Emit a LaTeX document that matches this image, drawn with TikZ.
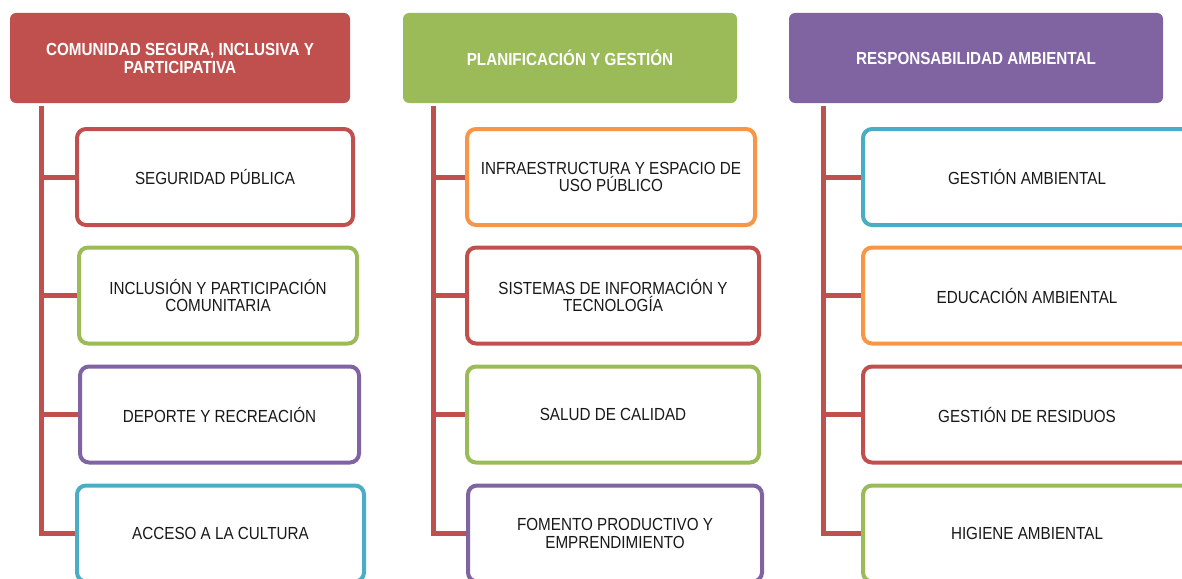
\documentclass[tikz,border=0pt]{standalone}
\usepackage{fontspec}
\setmainfont{Liberation Sans}[FakeStretch=0.87]
\usepackage{xcolor}
\definecolor{ored}{HTML}{C0504D}
\definecolor{ogreen}{HTML}{9BBB59}
\definecolor{opurple}{HTML}{8064A2}
\definecolor{oaqua}{HTML}{4BACC6}
\definecolor{oorange}{HTML}{F79646}
\pgfdeclarelayer{bg}
\pgfsetlayers{bg,main}
\tikzset{
  head/.style={fill=#1, draw=none, rounded corners=6pt, minimum height=90pt,
    inner sep=0pt, align=center, text=white,
    font=\fontsize{17.5}{18}\selectfont\bfseries},
  item/.style={draw=#1, line width=4pt, fill=white, rounded corners=9pt,
    minimum height=96pt, inner sep=0pt, align=center, text=black!90,
    font=\fontsize{17.5}{17.5}\selectfont},
  trunk/.style={draw=ored, line width=5pt},
}

\begin{document}
\begin{tikzpicture}[x=1pt, y=-1pt]
    \useasboundingbox (0,0) rectangle (1182,578);

    % Headers
    \node[head=ored, minimum width=340pt] (h1) at (180,58) {COMUNIDAD SEGURA, INCLUSIVA Y\\PARTICIPATIVA};
    \node[head=ogreen, minimum width=334pt] (h2) at (570,58) {PLANIFICACIÓN Y GESTIÓN};
    \node[head=opurple, minimum width=374pt] (h3) at (976,58) {RESPONSABILIDAD AMBIENTAL};

    % Column 1
    \node[item=ored, minimum width=276pt] (c11) at (215,177) {SEGURIDAD PÚBLICA};
    \node[item=ogreen, minimum width=278pt] (c12) at (218,295.5) {INCLUSIÓN Y PARTICIPACIÓN\\COMUNITARIA};
    \node[item=opurple, minimum width=279pt] (c13) at (219.5,414.5) {DEPORTE Y RECREACIÓN};
    \node[item=oaqua, minimum width=287pt] (c14) at (220.5,533.5) {ACCESO A LA CULTURA};

    % Column 2
    \node[item=oorange, minimum width=288pt] (c21) at (611,177) {INFRAESTRUCTURA Y ESPACIO DE\\USO PÚBLICO};
    \node[item=ored, minimum width=292pt] (c22) at (613,295.5) {SISTEMAS DE INFORMACIÓN Y\\TECNOLOGÍA};
    \node[item=ogreen, minimum width=292pt] (c23) at (613,414.5) {SALUD DE CALIDAD};
    \node[item=opurple, minimum width=294pt] (c24) at (615,533.5) {FOMENTO PRODUCTIVO Y\\EMPRENDIMIENTO};

    % Column 3 (cut at the right edge)
    \node[item=oaqua, minimum width=328pt] (c31) at (1027,177) {GESTIÓN AMBIENTAL};
    \node[item=oorange, minimum width=328pt] (c32) at (1027,295.5) {EDUCACIÓN AMBIENTAL};
    \node[item=ored, minimum width=328pt] (c33) at (1027,414.5) {GESTIÓN DE RESIDUOS};
    \node[item=ogreen, minimum width=328pt] (c34) at (1027,533.5) {HIGIENE AMBIENTAL};

    % Trunks and branches
    \coordinate (t1) at ([xshift=32pt, yshift=-3pt]h1.south west);
    \coordinate (t2) at ([xshift=31pt, yshift=-3pt]h2.south west);
    \coordinate (t3) at ([xshift=35pt, yshift=-3pt]h3.south west);
    \begin{pgfonlayer}{bg}
    \foreach \c in {1,2,3} {
        \draw[trunk] (t\c) |- (c\c4.west);
        \foreach \i in {1,2,3} \draw[trunk] (c\c\i.west) -- (c\c\i.west -| t\c);
    }
    \end{pgfonlayer}
\end{tikzpicture}
\end{document}
